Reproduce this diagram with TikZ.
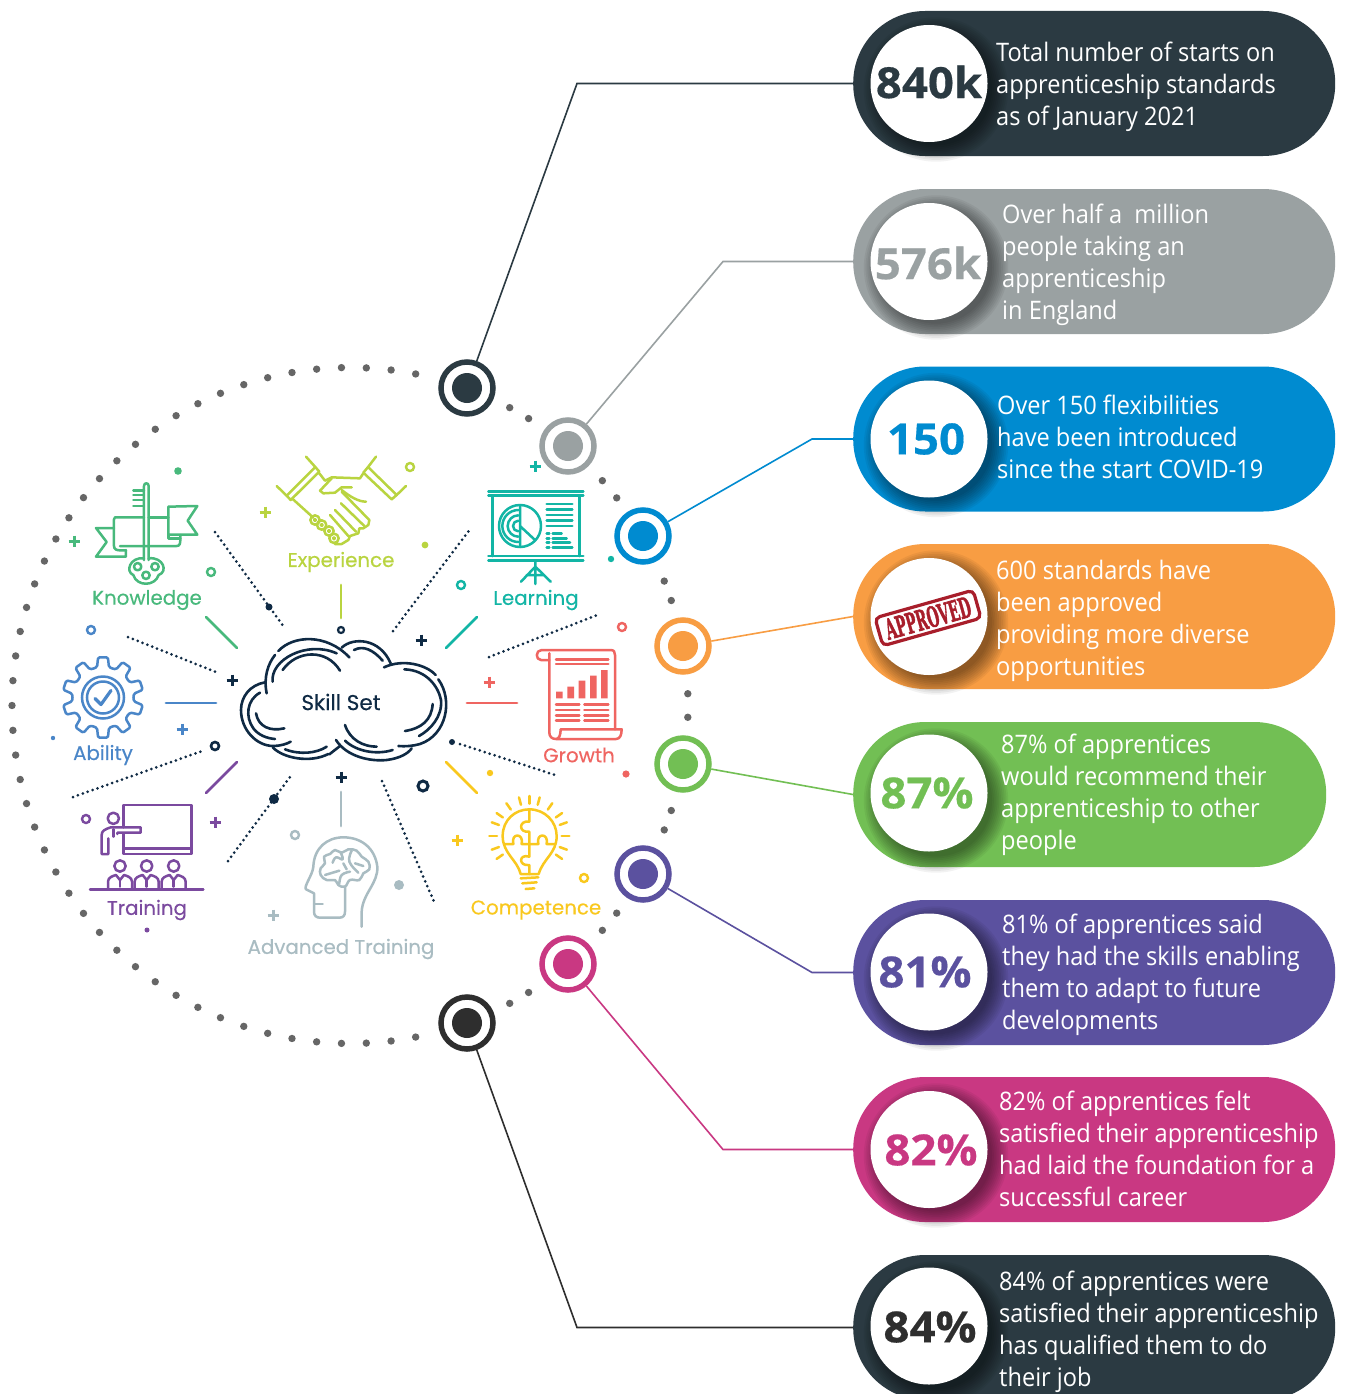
\documentclass[tikz,border=0pt]{standalone}
\usepackage{fontspec}
\usepackage{graphicx}
\setmainfont{Open Sans}
\newfontfamily\pillfont[FakeStretch=0.925]{Open Sans}
\newfontfamily\numfont[FakeStretch=1.06,FakeBold=0.4]{Open Sans}
\newfontfamily\labelfont[FakeBold=0.35]{Poppins}
\newfontfamily\stampfont[FakeBold=2.2]{DejaVu Serif}
\usetikzlibrary{calc}
\definecolor{cdark}{HTML}{2B3A42}
\definecolor{cgray}{HTML}{9AA1A2}
\definecolor{cblue}{HTML}{008BD0}
\definecolor{corange}{HTML}{F89D43}
\definecolor{cgreen}{HTML}{72BF54}
\definecolor{cpurple}{HTML}{5B519F}
\definecolor{cpink}{HTML}{C93882}
\definecolor{cblack}{HTML}{2E2E2E}
\definecolor{cnavy}{HTML}{0F2A44}
\definecolor{ikgreen}{HTML}{48B97C}
\definecolor{ikblue}{HTML}{4A86C8}
\definecolor{iklime}{HTML}{B9D440}
\definecolor{ikteal}{HTML}{12B5A5}
\definecolor{ikred}{HTML}{EF6561}
\definecolor{ikyellow}{HTML}{F9C81E}
\definecolor{ikgrey}{HTML}{A9BCC2}
\definecolor{ikpurple}{HTML}{7B4A9F}
\definecolor{cdots}{HTML}{666666}
\definecolor{cstamp}{HTML}{A81E2B}
\tikzset{
  pillbox/.style={rounded corners=72pt,inner sep=0pt,minimum height=145pt,anchor=west,fill=#1},
  whitedisc/.style={circle,fill=white,inner sep=0pt,minimum size=117pt},
  bignum/.style={font=\numfont\fontsize{43}{43}\selectfont\bfseries,text=#1,inner sep=0pt},
  pilltext/.style={font=\pillfont\fontsize{25.5}{32}\selectfont,text=white,align=left,anchor=west,inner sep=0pt},
  ringnode/.style={circle,draw=#1,line width=5.5pt,fill=white,inner sep=0pt,minimum size=52pt},
  conn/.style={draw=#1,line width=1.6pt},
  icon/.style={draw=#1,line width=2.5pt,line join=round,line cap=round},
  iconlabel/.style={font=\labelfont\fontsize{19.8}{20}\selectfont,text=#1,inner sep=0pt},
  spoke/.style={draw=#1,line width=2.8pt,line cap=round},
  dotline/.style={draw=cnavy,line width=3pt,line cap=round,dash pattern=on 0pt off 5.2pt},
  cloudline/.style={draw=cnavy,line width=2.6pt,line cap=round},
}
\newcommand{\pillshadow}[1]{%
  \foreach \i in {0,...,9}{\fill[black,opacity=0.05] (936,#1+6) circle (56+1.8*\i);}}
\newcommand{\plusat}[3]{\draw[#3,line width=3pt] (#1-5.5,#2)--(#1+5.5,#2) (#1,#2-5.5)--(#1,#2+5.5);}
\newcommand{\ringat}[3]{\draw[#3,line width=2.4pt] (#1,#2) circle (4);}
\newcommand{\dotat}[4]{\fill[#4] (#1,#2) circle (#3);}
\begin{document}
\begin{tikzpicture}[x=1pt,y=-1pt]
\useasboundingbox (0,0) rectangle (1348,1394);
\clip (0,0) rectangle (1348,1394);
\fill[white] (0,0) rectangle (1348,1394);

% ---------- pills
\node[pillbox=cdark,minimum width=482pt] (p1) at (853,83.5) {};
\node[pillbox=cgray,minimum width=482pt] (p2) at (853,261.5) {};
\node[pillbox=cblue,minimum width=482pt] (p3) at (853,439) {};
\node[pillbox=corange,minimum width=482pt] (p4) at (853,616.5) {};
\node[pillbox=cgreen,minimum width=473pt] (p5) at (853,794.5) {};
\node[pillbox=cpurple,minimum width=482pt] (p6) at (853,972.5) {};
\node[pillbox=cpink,minimum width=482pt] (p7) at (853,1149.5) {};
\node[pillbox=cdark,minimum width=482pt] (p8) at (853,1327.5) {};
\foreach \yy in {83.5,261.5,439,616.5,794.5,972.5,1149.5,1327.5}{\pillshadow{\yy}}
\node[whitedisc] (c1) at (929,83.5) {};
\node[whitedisc] (c2) at (929,261.5) {};
\node[whitedisc] (c3) at (929,439) {};
\node[whitedisc] (c4) at (929,616.5) {};
\node[whitedisc] (c5) at (929,793) {};
\node[whitedisc] (c6) at (929,972) {};
\node[whitedisc] (c7) at (929,1149.5) {};
\node[whitedisc] (c8) at (929,1326) {};
\node[bignum=cdark] (n1) at (929,82) {840k};
\node[bignum=cgray] (n2) at (928,263) {576k};
\node[bignum=cblue] (n3) at (926,439) {150};
\node[bignum=cgreen] (n5) at (927,793) {87\%};
\node[bignum=cpurple] (n6) at (925,972) {81\%};
\node[bignum=cpink] (n7) at (931,1150) {82\%};
\node[bignum=cblack] (n8) at (930,1327) {84\%};
% stamp
\node[draw=cstamp,line width=3.2pt,rounded corners=5pt,rotate=15.8,minimum width=102pt,minimum height=29pt,inner sep=0pt,text=cstamp] (stamp) at (928,618)
  {\resizebox{88pt}{21pt}{\stampfont\bfseries APPROVED}};

\node[pilltext] (t1) at (996,87) {Total number of starts on\\apprenticeship standards\\as of January 2021};
\node[pilltext] (t2) at (1002,265) {Over half a\ \ million\\people taking an\\apprenticeship\\in England};
\node[pilltext] (t3) at (997,437) {Over 150 flexibilities\\have been introduced\\since the start COVID-19};
\node[pilltext] (t4) at (996,621) {600 standards have\\been approved\\providing more diverse\\opportunities};
\node[pilltext] (t5) at (1001,795) {87\% of apprentices\\would recommend their\\apprenticeship to other\\people};
\node[pilltext] (t6) at (1002,975) {81\% of apprentices said\\they had the skills enabling\\them to adapt to future\\developments};
\node[pilltext] (t7) at (999,1149) {82\% of apprentices felt\\satisfied their apprenticeship\\had laid the foundation for a\\successful career};
\node[pilltext] (t8) at (999,1332) {84\% of apprentices were\\satisfied their apprenticeship\\has qualified them to do\\their job};

% ---------- ring of dots
\foreach \k in {0,...,48}{\fill[cdots] ($(350,705.5)+({78.8+4.2167*\k}:338)$) circle (3.7);}
\foreach \a in {61.8,58.1,41.7,37.9,21.6,18.1,2,-2,-18.1,-21.6,-37.9,-41.7,-58.1,-61.8}{\fill[cdots] ($(350,705.5)+(\a:338)$) circle (3.7);}

% ---------- big rings and connectors
\node[ringnode=cdark] (r1) at (467,388) {};
\node[ringnode=cgray] (r2) at (568,446) {};
\node[ringnode=cblue] (r3) at (643,536) {};
\node[ringnode=corange] (r4) at (683,646) {};
\node[ringnode=cgreen] (r5) at (683,764) {};
\node[ringnode=cpurple] (r6) at (643,874) {};
\node[ringnode=cpink] (r7) at (568,964) {};
\node[ringnode=cblack] (r8) at (467,1023) {};
\fill[cdark] (r1) circle (15);
\fill[cgray] (r2) circle (15);
\fill[cblue] (r3) circle (15);
\fill[corange] (r4) circle (15);
\fill[cgreen] (r5) circle (15);
\fill[cpurple] (r6) circle (15);
\fill[cpink] (r7) circle (15);
\fill[cblack] (r8) circle (15);
\coordinate (b1) at (577,83.5);
\coordinate (b2) at (723,261.5);
\coordinate (b3) at (812,439);
\coordinate (b6) at (812,972.5);
\coordinate (b7) at (723,1149.5);
\coordinate (b8) at (577,1327.5);
\draw[conn=cdark] (r1) -- (b1) -- (p1.west);
\draw[conn=cgray] (r2) -- (b2) -- (p2.west);
\draw[conn=cblue] (r3) -- (b3) -- (p3.west);
\draw[conn=corange] (r4) -- (p4.west);
\draw[conn=cgreen] (r5) -- (p5.west);
\draw[conn=cpurple] (r6) -- (b6) -- (p6.west);
\draw[conn=cpink] (r7) -- (b7) -- (p7.west);
\draw[conn=cblack] (r8) -- (b8) -- (p8.west);

% ---------- cloud
\begin{scope}[shift={(230,620)},scale=1/3]
\draw[cloudline] (105,187) .. controls (60,195) and (33,230) .. (33,270) .. controls (33,330) and (80,378) .. (130,378) .. controls (150,378) and (170,372) .. (182,365);
\draw[cloudline] (110,220) .. controls (100,170) and (115,130) .. (135,105);
\draw[cloudline] (145,93) .. controls (190,45) and (290,40) .. (358,112);
\draw[cloudline] (335,83) .. controls (370,50) and (450,55) .. (482,130);
\draw[cloudline] (462,142) .. controls (520,115) and (590,135) .. (617,165);
\draw[cloudline] (625,178) .. controls (670,240) and (650,345) .. (570,372) .. controls (550,378) and (525,380) .. (505,378);
\draw[cloudline] (318,360) .. controls (350,410) and (420,425) .. (470,420) .. controls (510,415) and (535,400) .. (545,385);
\draw[cloudline] (128,382) .. controls (160,415) and (240,430) .. (295,402);
\draw[cloudline] (298,403) -- (330,378);
\draw[cloudline] (90,218) .. controls (50,240) and (45,290) .. (70,325) .. controls (85,345) and (110,355) .. (135,357);
\draw[cloudline] (78,280) .. controls (85,320) and (120,335) .. (163,325);
\draw[cloudline] (128,185) .. controls (120,120) and (230,60) .. (320,100);
\draw[cloudline] (158,150) .. controls (200,90) and (290,85) .. (330,152);
\draw[cloudline] (372,90) .. controls (400,75) and (430,90) .. (458,122);
\draw[cloudline] (523,148) .. controls (590,150) and (625,200) .. (633,240) .. controls (638,290) and (600,330) .. (567,348);
\draw[cloudline] (608,252) .. controls (605,300) and (575,325) .. (525,333);
\draw[cloudline] (165,388) .. controls (210,405) and (260,400) .. (290,380);
\draw[cloudline] (345,315) .. controls (360,360) and (400,380) .. (440,380);
\draw[cloudline] (345,362) .. controls (380,395) and (440,405) .. (488,390);
\end{scope}
\node[font=\labelfont\fontsize{21.5}{22}\selectfont,text=cnavy,inner sep=0pt] (skill) at (341,702) {Skill Set};

% ---------- dotted spokes
\draw[dotline] (215,532) -- (284,627);
\fill[cnavy] (269,607) circle (3.5);
\draw[dotline] (128,637) -- (216,672);
\draw[dotline] (393,631) -- (471,528);
\draw[dotline] (489,657) -- (600,614);
\draw[dotline] (460,744) -- (555,775);
\fill[cnavy] (452,742) circle (3);
\draw[dotline] (382,781) -- (435,904);
\draw[dotline] (228,861) -- (290,777);
\fill[cnavy] (274,799) circle (5);
\draw[dotline] (73,797) -- (205,750);
\draw[cnavy,line width=2.6pt] (215,746) circle (4);
\draw[cnavy,line width=2.2pt] (341,630) circle (3);
\draw[cnavy,line width=3pt] (423,786) circle (5);
\plusat{232}{680}{cnavy}
\plusat{421}{640}{cnavy}
\plusat{341}{777}{cnavy}

% ---------- coloured spokes
\draw[spoke=ikgreen] (206,617) -- (237,648);
\draw[spoke=ikblue] (166,703) -- (216,703);
\draw[spoke=iklime] (341,585) -- (341,618);
\draw[spoke=ikteal] (446,648) -- (477,617);
\draw[spoke=ikred] (467,703) -- (517,703);
\draw[spoke=ikyellow] (446,762) -- (477,793);
\draw[spoke=ikgrey] (341,792) -- (341,826);
\draw[spoke=ikpurple] (206,793) -- (237,762);

% ---------- accents
\dotat{178}{471}{3.8}{ikgreen} \plusat{74}{541}{ikgreen} \ringat{211}{572}{ikgreen}
\ringat{91}{630}{ikblue} \plusat{182}{729}{ikblue} \dotat{53}{738}{2.2}{ikblue}
\plusat{265}{512}{iklime} \ringat{410}{467}{iklime} \dotat{425}{545}{3.4}{iklime}
\plusat{535}{466}{ikteal} \ringat{461}{585}{ikteal} \dotat{611}{559}{3.2}{ikteal}
\ringat{622}{627}{ikred} \plusat{489}{682}{ikred} \dotat{626}{774}{3.6}{ikred}
\dotat{490}{773}{3.2}{ikyellow} \plusat{457}{840}{ikyellow} \ringat{584}{878}{ikyellow}
\ringat{295}{835}{ikgrey} \dotat{399}{885}{5}{ikgrey} \plusat{273}{915}{ikgrey}
\ringat{86}{819}{ikpurple} \plusat{215}{822}{ikpurple} \dotat{147}{930}{2.5}{ikpurple}

% ---------- knowledge
\begin{scope}[shift={(0,440)},scale=1/3]
\draw[icon=ikgreen] (432,360) -- (432,138) .. controls (432,127) and (446,127) .. (446,138) -- (446,360);
\draw[icon=ikgreen] (400,152) -- (432,152) (400,165) -- (432,165) (400,180) -- (432,180) (400,198) -- (432,198);
\draw[icon=ikgreen] (432,355) .. controls (390,350) and (375,395) .. (400,405) .. controls (410,440) and (465,440) .. (476,405) .. controls (505,395) and (490,350) .. (446,355);
\draw[icon=ikgreen] (413,380) circle [radius=11] (465,380) circle [radius=11] (438,406) circle [radius=11];
\draw[icon=ikgreen] (342,264) -- (288,264) -- (320,306) -- (288,350) -- (378,350) -- (378,330);
\draw[icon=ikgreen] (432,232) -- (345,232) -- (342,238) -- (342,318) .. controls (342,328) and (350,331) .. (360,331) -- (378,331);
\draw[icon=ikgreen] (446,232) -- (505,232);
\draw[icon=ikgreen] (360,318) -- (530,318) .. controls (540,318) and (541,310) .. (541,296) -- (541,285);
\draw[icon=ikgreen] (505,200) -- (592,198) -- (563,242) -- (592,284) -- (505,284) -- cycle;
\draw[icon=ikgreen] (505,284) -- (505,296) -- (541,296);
\end{scope}
\node[iconlabel=ikgreen] (lknow) at (147,600) {Knowledge};

% ---------- ability gear
\begin{scope}[shift={(103,697.5)}]
\foreach \a in {90,126,...,414}{
 \draw[icon=ikblue,rounded corners=1.5pt] (\a-18:30.5) -- (\a-11:31) -- (\a-7:40.5) -- (\a+7:40.5) -- (\a+11:31) -- (\a+18:30.5);}
\draw[ikblue,line width=2.5pt] (0,0) circle (21) (0,0) circle (16);
\draw[ikblue,line width=3.2pt,line join=round,line cap=round] (-8,1) -- (-2,7) -- (8,-7);
\end{scope}
\node[iconlabel=ikblue] (labil) at (103,755) {Ability};

% ---------- experience handshake
\begin{scope}[shift={(270,450)},scale=1/3]
\draw[icon=iklime] (108,20) -- (135,50) -- (148,65) -- (62,150) -- (50,137) -- (135,52);
\draw[icon=iklime] (20,108) -- (50,137);
\draw[icon=iklime] (318,20) -- (295,50) -- (280,68) -- (365,148) -- (380,135) -- (295,52);
\draw[icon=iklime] (408,108) -- (380,135);
\draw[icon=iklime] (148,70) -- (165,92) -- (185,82) -- (270,85) -- (280,70);
\draw[icon=iklime] (185,85) -- (150,122) -- (160,130) -- (195,128) -- (215,112) -- (245,112);
\draw[icon=iklime] (215,120) .. controls (240,140) and (265,155) .. (288,155);
\draw[icon=iklime] (215,125) -- (298,210) -- (295,225) -- (280,235) -- (268,235) -- (265,250) -- (240,258) -- (235,270) -- (215,282) -- (195,282);
\draw[icon=iklime] (68,147) -- (130,203);
\foreach \xx/\yy in {135/210,155/225,177/243,192/265}{
  \draw[icon=iklime] (\xx,\yy) circle [radius=14];
  \draw[icon=iklime,line width=1.8pt] (\xx,\yy) circle [radius=4];}
\draw[icon=iklime] (213,160) -- (283,228) (195,180) -- (258,245) (180,195) -- (235,258);
\end{scope}
\node[iconlabel=iklime] (lexp) at (341,562) {Experience};

% ---------- learning
\begin{scope}[shift={(340,440)},scale=1/3]
\draw[icon=ikteal] (445,155) -- (730,155) (445,167) -- (730,167) (445,348) -- (730,348) (445,362) -- (730,362);
\draw[icon=ikteal] (458,167) -- (458,348) (718,167) -- (718,348);
\draw[icon=ikteal] (540,258) circle [radius=63];
\draw[icon=ikteal] (540,195) -- (540,321) (540,258) -- (585,300);
\draw[icon=ikteal] (535,210) arc [start angle=-90,end angle=-270,radius=48];
\draw[icon=ikteal] (535,226) arc [start angle=-90,end angle=-270,radius=32];
\draw[icon=ikteal] (535,242) arc [start angle=-90,end angle=-270,radius=16];
\foreach \yy in {192,208,225,241,258}{\draw[icon=ikteal] (620,\yy) -- (697,\yy);}
\foreach \yy/\xe in {280/665,295/680,308/690,323/697}{\draw[icon=ikteal] (620,\yy) -- (628,\yy) (638,\yy) -- (\xe,\yy);}
\draw[icon=ikteal] (586,362) -- (586,432) (543,425) -- (586,380) -- (632,425) (560,405) -- (612,405);
\end{scope}
\node[iconlabel=ikteal] (llearn) at (536,600) {Learning};

% ---------- growth
\begin{scope}[shift={(340,440)},scale=1/3]
\draw[icon=ikred] (628,660) -- (603,660) .. controls (586,660) and (586,630) .. (605,630) -- (812,630) .. controls (822,630) and (825,636) .. (825,645) -- (825,868);
\draw[icon=ikred] (628,640) -- (628,878) .. controls (628,890) and (636,897) .. (648,897) -- (828,897) .. controls (840,897) and (845,885) .. (845,868) -- (662,868) .. controls (662,885) and (657,897) .. (648,897);
\foreach \yy in {658,672}{\draw[icon=ikred] (648,\yy) -- (805,\yy);}
\fill[ikred] (648,755) rectangle (668,775) (682,740) rectangle (702,775) (716,722) rectangle (736,775) (750,707) rectangle (770,775) (783,690) rectangle (803,775);
\foreach \yy in {793,810,827,842}{\draw[icon=ikred] (648,\yy) -- (718,\yy) (733,\yy) -- (805,\yy);}
\end{scope}
\node[iconlabel=ikred] (lgrow) at (579,755) {Growth};

% ---------- competence
\begin{scope}[shift={(280,770)},scale=1/3]
\draw[icon=ikyellow] (722,312) .. controls (712,270) and (668,250) .. (668,198) .. controls (668,150) and (705,118) .. (748,118) .. controls (795,118) and (830,155) .. (830,198) .. controls (830,250) and (790,265) .. (776,312) -- cycle;
\draw[icon=ikyellow] (748,118) -- (748,155) .. controls (715,150) and (715,190) .. (748,185) -- (748,260) .. controls (715,250) and (715,290) .. (748,285) -- (748,312);
\draw[icon=ikyellow] (672,222) -- (700,222) .. controls (692,188) and (732,188) .. (725,222) -- (775,222) .. controls (767,188) and (807,188) .. (800,222) -- (826,222);
\draw[icon=ikyellow] (722,325) -- (775,322) (727,340) -- (770,337) (737,357) -- (763,355);
\foreach \a in {0,20,35,55,75,90,105,125,145,160,180,200,215,-20,-35}{
  \draw[icon=ikyellow] ([shift={(-\a:97)}]748,198) -- ([shift={(-\a:120)}]748,198);}
\end{scope}
\node[iconlabel=ikyellow] (lcomp) at (536,910) {Competence};

% ---------- advanced training head
\begin{scope}[shift={(300,830)},scale=1/3]
\draw[icon=ikgrey] (185,290) -- (185,245) .. controls (188,190) and (235,160) .. (232,110) .. controls (225,55) and (185,22) .. (130,22) .. controls (80,22) and (42,55) .. (40,110) .. controls (38,135) and (10,170) .. (18,178) -- (42,190) -- (42,245) .. controls (42,258) and (50,263) .. (60,263) -- (118,263) .. controls (130,263) and (135,256) .. (135,245) -- (135,170);
\draw[icon=ikgrey] (42,222) -- (68,222);
\draw[icon=ikgrey] plot[smooth cycle,tension=0.7] coordinates {(62,115) (75,100) (72,80) (90,72) (105,60) (125,68) (145,58) (170,62) (185,80) (205,95) (208,118) (190,130) (178,150) (150,150) (135,170) (115,165) (105,150) (80,150) (62,135)};
\draw[icon=ikgrey] plot[smooth,tension=0.7] coordinates {(122,68) (128,88) (108,82) (98,98)};
\draw[icon=ikgrey] plot[smooth,tension=0.7] coordinates {(155,62) (148,95) (175,128)};
\draw[icon=ikgrey] plot[smooth,tension=0.7] coordinates {(75,135) (98,128) (118,122)};
\draw[icon=ikgrey] plot[smooth,tension=0.7] coordinates {(118,160) (125,135) (150,125)};
\draw[icon=ikgrey] (165,100) -- (190,108);
\draw[icon=ikgrey] (130,100) -- (140,118);
\end{scope}
\node[iconlabel=ikgrey] (ladv) at (341,949) {Advanced Training};

% ---------- training
\begin{scope}[shift={(40,740)},scale=1/3]
\draw[icon=ikpurple] (250,262) -- (250,195) -- (455,195) -- (455,342) -- (250,342) -- (250,280);
\draw[icon=ikpurple] (250,325) -- (455,325);
\draw[icon=ikpurple] (220,235) circle [radius=17];
\draw[icon=ikpurple] (185,342) -- (205,342) -- (205,295) (185,342) -- (185,285) .. controls (185,272) and (195,268) .. (212,262) -- (302,262) -- (302,278) -- (232,278) -- (232,282);
\draw[icon=ikpurple] (220,268) -- (220,290);
\foreach \xx in {240,320,401}{
  \draw[icon=ikpurple] (\xx,378) circle [radius=17];
  \draw[icon=ikpurple] (\xx-36,445) -- (\xx-36,425) .. controls (\xx-36,412) and (\xx-22,408) .. (\xx-12,405) -- (\xx,420) -- (\xx+12,405) .. controls (\xx+22,408) and (\xx+36,412) .. (\xx+36,425) -- (\xx+36,445);
  \draw[icon=ikpurple] (\xx,420) -- (\xx,440);}
\draw[icon=ikpurple] (150,448) -- (490,448);
\end{scope}
\node[iconlabel=ikpurple] (ltrain) at (147,910) {Training};
\end{tikzpicture}
\end{document}
